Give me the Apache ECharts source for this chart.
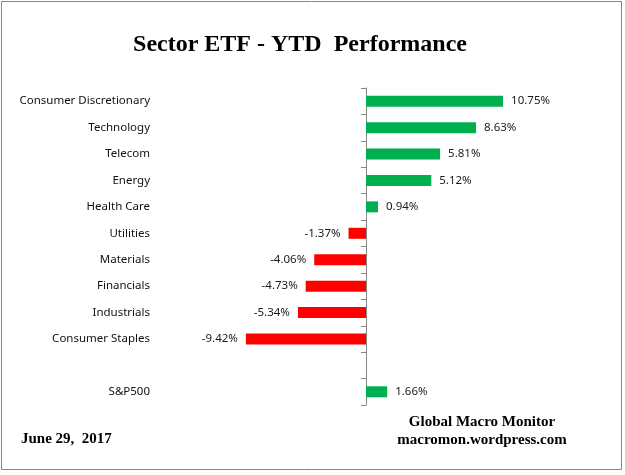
<!DOCTYPE html>
<html>
<head>
    <meta charset="UTF-8">
    <title>Sector ETF - YTD Performance</title>
    <script type="text/javascript" src="https://cdn.jsdelivr.net/npm/echarts@6/dist/echarts.min.js"></script>
</head>
<body style="margin: 0;padding: 0;">
    <div id="container" style="width:625px; height:475px;"></div>
    <script>
        // 数据：类别与年初至今涨跌幅（%）
        var sectors = ['Consumer Discretionary', 'Technology', 'Telecom', 'Energy', 'Health Care',
            'Utilities', 'Materials', 'Financials', 'Industrials', 'Consumer Staples', '', 'S&P500'];
        var ytd = [10.75, 8.63, 5.81, 5.12, 0.94, -1.37, -4.06, -4.73, -5.34, -9.42, null, 1.66];

        var titleText = 'Sector ETF - YTD  Performance';
        var dateText = 'June 29,  2017';
        var sourceText = ['Global Macro Monitor', 'macromon.wordpress.com'];

        var chart = echarts.init(document.getElementById('container'), null, { renderer: 'canvas' });

        var barData = ytd.map(function (v) {
            if (v === null) return '-';
            return {
                value: v,
                itemStyle: { color: v >= 0 ? '#00B050' : '#FF0000' },
                label: { position: v >= 0 ? 'right' : 'left' }
            };
        });

        var serif = '"Liberation Serif", "Times New Roman", serif';
        var sans = '"Noto Sans", "Open Sans", sans-serif';

        var option = {
            backgroundColor: '#ffffff',
            animation: false,
            grid: { left: 162, right: 55, top: 88, bottom: 70 },
            xAxis: {
                type: 'value',
                min: -16,
                max: 16,
                show: false
            },
            yAxis: [{
                type: 'category',
                data: sectors,
                inverse: true,
                position: 'left',
                axisLine: { show: false, onZero: false },
                axisTick: { show: false },
                axisLabel: { margin: 12, fontFamily: sans, fontSize: 11.5, color: '#111' }
            }, {
                type: 'category',
                data: sectors,
                inverse: true,
                position: 'left',
                axisLine: { show: true, onZero: true, lineStyle: { color: '#868686', width: 1 } },
                axisTick: { show: true, length: 5, lineStyle: { color: '#868686' } },
                axisLabel: { show: false },
                splitLine: { show: false }
            }],
            series: [{
                type: 'bar',
                yAxisIndex: 0,
                data: barData,
                barWidth: 11,
                label: {
                    show: true,
                    distance: 8,
                    fontFamily: sans,
                    fontSize: 11.5,
                    color: '#1a1a1a',
                    formatter: function (p) { return p.value.toFixed(2) + '%'; }
                }
            }],
            graphic: [{
                type: 'rect',
                shape: { x: 1.5, y: 1.5, width: 620, height: 468 },
                style: { fill: null, stroke: '#868686', lineWidth: 1 },
                silent: true
            }, {
                type: 'text',
                x: 300, y: 45,
                style: {
                    text: titleText, fontFamily: serif, fontWeight: 'bold', fontSize: 24,
                    fill: '#000', align: 'center', verticalAlign: 'middle'
                }
            }, {
                type: 'text',
                x: 21, y: 439,
                style: {
                    text: dateText, fontFamily: serif, fontWeight: 'bold', fontSize: 15,
                    fill: '#000', align: 'left', verticalAlign: 'middle'
                }
            }, {
                type: 'text',
                x: 482, y: 422,
                style: {
                    text: sourceText[0], fontFamily: serif, fontWeight: 'bold', fontSize: 15,
                    fill: '#000', align: 'center', verticalAlign: 'middle'
                }
            }, {
                type: 'text',
                x: 482, y: 440,
                style: {
                    text: sourceText[1], fontFamily: serif, fontWeight: 'bold', fontSize: 15,
                    fill: '#000', align: 'center', verticalAlign: 'middle'
                }
            }]
        };
        chart.setOption(option);
    </script>
</body>
</html>
